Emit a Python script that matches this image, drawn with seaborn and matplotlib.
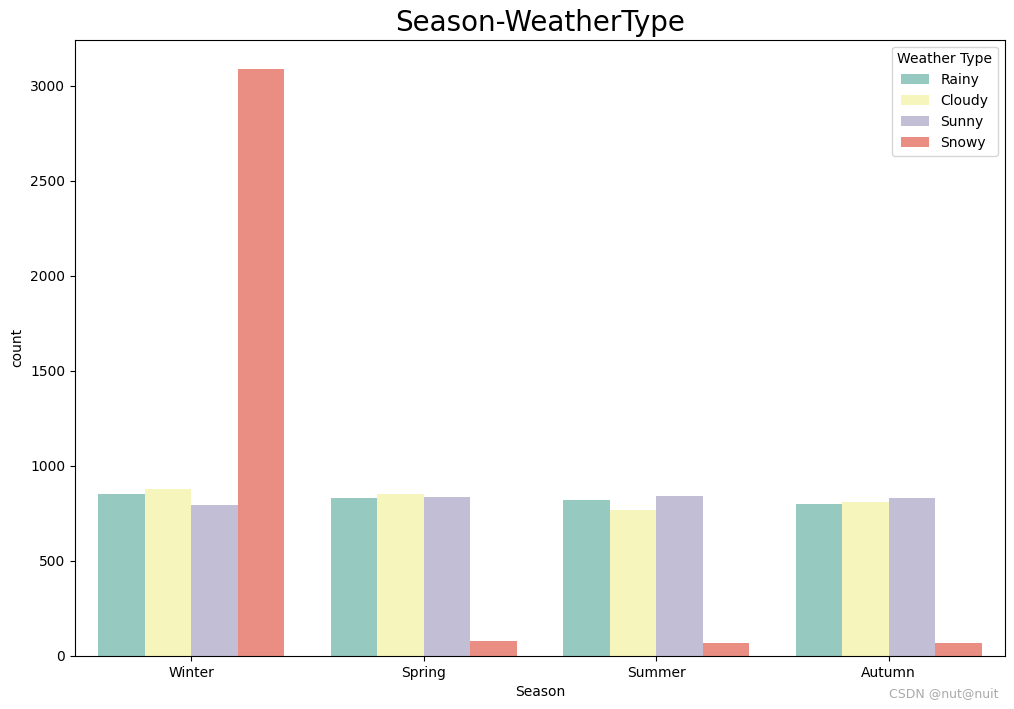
import seaborn as sns
import matplotlib.pyplot as plt
import pandas as pd

seasons = ["Winter", "Spring", "Summer", "Autumn"]
weather_types = ["Rainy", "Cloudy", "Sunny", "Snowy"]
rainy = [854, 831, 821, 800]
cloudy = [879, 853, 768, 811]
sunny = [795, 837, 842, 832]
snowy = [3089, 79, 68, 68]

counts = {"Rainy": rainy, "Cloudy": cloudy, "Sunny": sunny, "Snowy": snowy}
rows = []
for wt in weather_types:
    for s, c in zip(seasons, counts[wt]):
        rows.append({"Season": s, "Weather Type": wt, "count": c})
df = pd.DataFrame(rows)

fig, ax = plt.subplots(figsize=(10.14, 7.09), dpi=100)
fig.subplots_adjust(left=0.074, right=0.991, top=0.944, bottom=0.075)

sns.barplot(data=df, x="Season", y="count", hue="Weather Type",
            order=seasons, hue_order=weather_types, palette="Set3", ax=ax)
ax.set_title("Season-WeatherType", fontsize=20)
ax.set_yticks([0, 500, 1000, 1500, 2000, 2500, 3000])

fig.text(0.985, 0.012, "CSDN @nut@nuit", ha="right", va="bottom",
         fontsize=9, color="#aaaaaa")

plt.savefig("out.png", dpi=100)
